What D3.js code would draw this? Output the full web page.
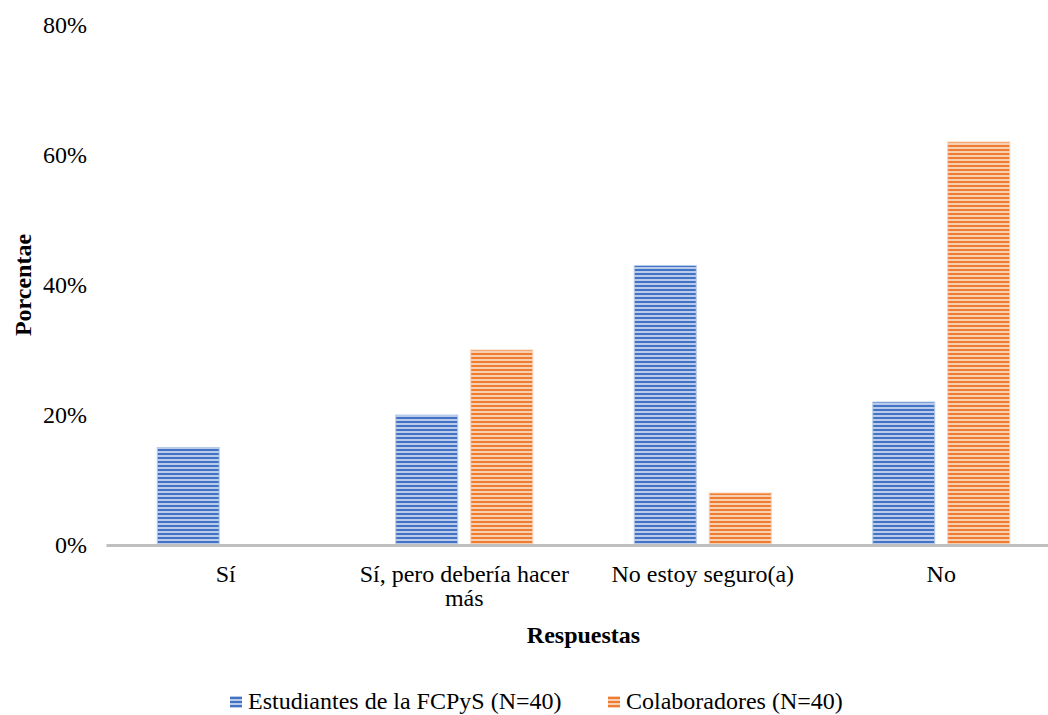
<!DOCTYPE html>
<html>
<head>
<meta charset="utf-8">
<script src="https://cdn.jsdelivr.net/npm/d3@7"></script>
<style>
  html, body { margin: 0; padding: 0; background: #fff; }
  svg { display: block; }
  text { font-family: "Liberation Serif", "Times New Roman", serif; fill: #000; }
</style>
</head>
<body>
<svg id="chart" width="1048" height="715"></svg>
<script>
// Answer categories (x axis)
const categories = ["Sí", "Sí, pero debería hacer más", "No estoy seguro(a)", "No"];
// Series names and their percentages per category
const seriesNames = ["Estudiantes de la FCPyS (N=40)", "Colaboradores (N=40)"];
const estudiantes = [15, 20, 43, 22];
const colaboradores = [0, 30, 8, 62];
// Y axis ticks
const yTicks = [0, 20, 40, 60, 80];

const colors = [
  { dark: "#4472c4", light: "#b9cbea" },
  { dark: "#ed7d31", light: "#f9cfb3" }
];

const FONT = "24px";
const svg = d3.select("#chart");
const W = 1048, H = 715;
const margin = { left: 106.5, right: -12.5, top: 25, bottom: 170 };

const x0 = d3.scaleBand()
  .domain(categories)
  .range([margin.left, W - margin.right])
  .paddingInner(0).paddingOuter(0);

const y = d3.scaleLinear().domain([0, 80]).range([H - margin.bottom, margin.top]);

// Inner band for the two series within each category
const groupW = 137;
const x1 = d3.scaleBand()
  .domain([0, 1])
  .range([0, groupW])
  .paddingInner(13 / 75).paddingOuter(0);

// Horizontal stripe patterns
const defs = svg.append("defs");
colors.forEach((c, i) => {
  const p = defs.append("pattern")
    .attr("id", "stripe" + i)
    .attr("patternUnits", "userSpaceOnUse")
    .attr("width", 8).attr("height", 4);
  p.append("rect").attr("width", 8).attr("height", 4).attr("fill", c.light);
  p.append("rect").attr("width", 8).attr("height", 2).attr("y", 1).attr("fill", c.dark);
});

const data = [estudiantes, colaboradores];

// Bars
const groups = svg.append("g").selectAll("g")
  .data(categories)
  .join("g")
  .attr("transform", d => `translate(${x0(d) + x0.bandwidth() / 2 - groupW / 2},0)`);

groups.selectAll("rect")
  .data((d, ci) => data.map((s, si) => ({ si, v: s[ci] })).filter(e => e.v > 0))
  .join("rect")
  .attr("x", d => x1(d.si))
  .attr("width", x1.bandwidth())
  .attr("y", d => y(d.v))
  .attr("height", d => y(0) - y(d.v))
  .attr("fill", d => `url(#stripe${d.si})`)
  .attr("stroke", d => colors[d.si].light)
  .attr("stroke-width", 1);

// X axis baseline
svg.append("line")
  .attr("x1", margin.left).attr("x2", W - margin.right)
  .attr("y1", y(0) + 0.5).attr("y2", y(0) + 0.5)
  .attr("stroke", "#bfbfbf").attr("stroke-width", 3);

// Y axis tick labels
const yAxis = d3.axisLeft(y).tickValues(yTicks).tickFormat(d => d + "%").tickSize(0).tickPadding(0);
const yg = svg.append("g").attr("transform", `translate(87,0)`).call(yAxis);
yg.select(".domain").remove();
yg.selectAll("text")
  .style("font-family", '"Liberation Serif", serif')
  .style("font-size", FONT)
  .attr("fill", "#000");

// X category labels (wrapped)
const xAxis = d3.axisBottom(x0).tickSize(0).tickPadding(0);
const xg = svg.append("g").attr("transform", `translate(0,${y(0)})`).call(xAxis);
xg.select(".domain").remove();
xg.selectAll("text").remove();
const wrapWidth = 225;
xg.selectAll(".tick").each(function(d) {
  const t = d3.select(this).append("text")
    .attr("text-anchor", "middle")
    .style("font-size", FONT)
    .attr("fill", "#000");
  const words = d.split(" ");
  let line = [], lineNo = 0;
  let tspan = t.append("tspan").attr("x", 0).attr("y", 37);
  words.forEach(w => {
    line.push(w);
    tspan.text(line.join(" "));
    if (tspan.node().getComputedTextLength() > wrapWidth && line.length > 1) {
      line.pop();
      tspan.text(line.join(" "));
      line = [w];
      lineNo++;
      tspan = t.append("tspan").attr("x", 0).attr("y", 37 + lineNo * 24).text(w);
    }
  });
});

// Axis titles
svg.append("text")
  .attr("x", (margin.left + W - margin.right) / 2).attr("y", 643)
  .attr("text-anchor", "middle")
  .style("font-size", FONT).style("font-weight", "bold")
  .text("Respuestas");

svg.append("text")
  .attr("transform", `translate(31,${(y(0) + y(80)) / 2}) rotate(-90)`)
  .attr("text-anchor", "middle")
  .style("font-size", FONT).style("font-weight", "bold")
  .text("Porcentae");

// Legend
const legendX = [230, 608];
const lg = svg.append("g").selectAll("g").data(seriesNames).join("g")
  .attr("transform", (d, i) => `translate(${legendX[i]},696)`);
lg.append("rect").attr("width", 12).attr("height", 12)
  .attr("fill", (d, i) => `url(#stripe${i})`);
lg.append("text").attr("x", 18).attr("y", 13)
  .style("font-size", FONT)
  .text(d => d);
</script>
</body>
</html>
